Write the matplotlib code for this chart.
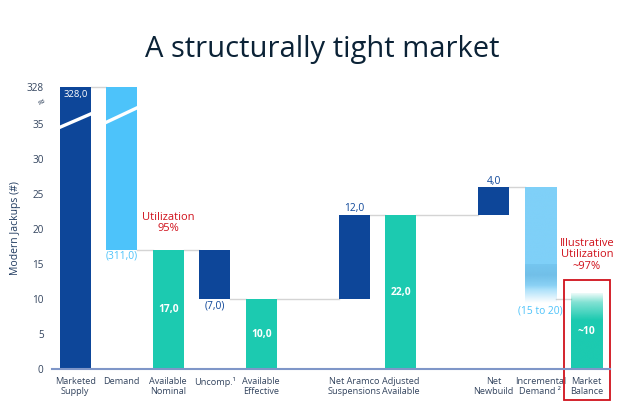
import numpy as np
import matplotlib
matplotlib.use("Agg")
import matplotlib.pyplot as plt
from matplotlib.patches import Rectangle
from matplotlib.colors import to_rgb

plt.rcParams["font.family"] = ["Open Sans", "DejaVu Sans"]

# ---- data ----
categories = ["Marketed\nSupply", "Demand", "Available\nNominal", "Uncomp.\u00b9",
              "Available\nEffective", "Net Aramco\nSuspensions", "Adjusted\nAvailable",
              "Net\nNewbuild", "Incremental\nDemand \u00b2", "Market\nBalance"]
bar_bottom = [0, 17, 0, 10, 0, 10, 0, 22, 9.5, 0]
bar_top = [328, 328, 17, 17, 10, 22, 22, 26, 26, 10.8]
value_labels = ["328,0", "(311,0)", "17,0", "(7,0)", "10,0", "12,0", "22,0", "4,0", "(15 to 20)", "~10"]
kinds = ["pos", "neg", "total", "negdark", "total", "pos", "total", "pos", "fadeneg", "fadetotal"]
connector_levels = [328, 17, 17, 10, 10, 22, 22, 26, 10]
y_ticks = [0, 5, 10, 15, 20, 25, 30, 35]
break_top_label = "328"

# ---- layout ----
slots = [0, 1, 2, 3, 4, 6, 7, 9, 10, 11]
YTOP = 40.3
W = 0.67
DARK = "#0d4699"
LIGHT = "#4dc3fa"
TEAL = "#1ccab0"
INC = "#7fd0f8"
RED = "#d0111b"
GRAY = "#d4d4d4"
TXT = "#34455f"

fig = plt.figure(figsize=(6.4, 4.17), dpi=100)
ax = fig.add_axes([52/640, 48/417, 558/640, 282/417])
ax.set_xlim(-0.5, 11.5)
ax.set_ylim(0, YTOP)

def disp(v):
    return min(v, YTOP)

def gradient_bar(x, y0, y1, color, stops_y, stops_a):
    n = 300
    ys = np.linspace(y0, y1, n)
    a = np.interp(ys, stops_y, stops_a)
    img = np.zeros((n, 1, 4))
    img[:, 0, :3] = to_rgb(color)
    img[:, 0, 3] = a
    ax.imshow(img, extent=[x - W/2, x + W/2, y0, y1], origin="lower",
              aspect="auto", interpolation="bilinear", zorder=2)

for i, (s, b, t, k) in enumerate(zip(slots, bar_bottom, bar_top, kinds)):
    if k == "pos":
        ax.bar(s, disp(t) - b, bottom=b, width=W, color=DARK, zorder=2)
    elif k == "neg":
        ax.bar(s, disp(t) - b, bottom=b, width=W, color=LIGHT, zorder=2)
    elif k == "negdark":
        ax.bar(s, t - b, bottom=b, width=W, color=DARK, zorder=2)
    elif k == "total":
        ax.bar(s, t - b, bottom=b, width=W, color=TEAL, zorder=2)
    elif k == "fadeneg":
        gradient_bar(s, b, t, INC, [b, 12.0, 14.8, t], [0.0, 0.85, 1.0, 1.0])
        gradient_bar(s, 11.5, 15.0, "#5fb0dc", [11.5, 13.5, 15.0], [0.0, 0.55, 0.3])
    elif k == "fadetotal":
        gradient_bar(s, b, t, TEAL, [b, 7.0, 9.5, t], [1.0, 1.0, 0.55, 0.08])

# connectors
for i, lvl in enumerate(connector_levels):
    x0 = slots[i] + W/2
    x1 = slots[i + 1] - W/2
    ax.plot([x0, x1], [disp(lvl), disp(lvl)], color=GRAY, lw=1, zorder=1, clip_on=False)

# break marks
for s, (ya, yb) in zip(slots[:2], [(34.4, 36.5), (35.1, 37.4)]):
    ax.plot([s - W/2 - 0.08, s + W/2 + 0.05], [ya - 0.1, yb + 0.1], color="white",
            lw=2.4, zorder=3, clip_on=False, solid_capstyle="butt")

# value labels
fs = 7.4
ax.text(slots[0], 39.2, value_labels[0], color="white", ha="center", va="center", fontsize=6.8, zorder=4)
ax.text(slots[1], 16.2, value_labels[1], color=LIGHT, ha="center", va="center", fontsize=fs)
ax.text(slots[2], 8.5, value_labels[2], color="white", ha="center", va="center", fontsize=fs, fontweight="bold", zorder=4)
ax.text(slots[3], 9.0, value_labels[3], color=DARK, ha="center", va="center", fontsize=fs)
ax.text(slots[4], 5.0, value_labels[4], color="white", ha="center", va="center", fontsize=fs, fontweight="bold", zorder=4)
ax.text(slots[5], 22.9, value_labels[5], color=DARK, ha="center", va="center", fontsize=fs)
ax.text(slots[6], 11.0, value_labels[6], color="white", ha="center", va="center", fontsize=fs, fontweight="bold", zorder=4)
ax.text(slots[7], 26.8, value_labels[7], color=DARK, ha="center", va="center", fontsize=fs)
ax.text(slots[8], 8.3, value_labels[8], color=LIGHT, ha="center", va="center", fontsize=fs, zorder=4)
ax.text(slots[9], 5.4, value_labels[9], color="white", ha="center", va="center", fontsize=fs, fontweight="bold", zorder=4)

# annotations
ax.text(slots[2], 20.9, "Utilization\n95%", color=RED, ha="center", va="center", fontsize=8, linespacing=1.05)
ax.text(slots[9], 16.3, "Illustrative\nUtilization\n~97%", color=RED, ha="center", va="center", fontsize=8, linespacing=1.05)
ax.add_patch(Rectangle((slots[9] - 0.49, -4.4), 0.98, 17.1, fill=False, ec=RED, lw=1.3,
                       clip_on=False, zorder=5))

# axes styling
for sp in ["top", "right", "left"]:
    ax.spines[sp].set_visible(False)
ax.spines["bottom"].set_color("#7f96c8")
ax.spines["bottom"].set_linewidth(1.5)
ax.spines["bottom"].set_zorder(6)
ax.set_yticks(y_ticks + [YTOP])
ax.set_yticklabels([str(v) for v in y_ticks] + [break_top_label])
ax.set_xticks(slots)
ax.set_xticklabels(categories, linespacing=1.15)
ax.tick_params(axis="both", length=0, colors=TXT)
ax.tick_params(axis="y", pad=6, labelsize=7.2)
ax.tick_params(axis="x", pad=6, labelsize=6.6)
ax.text(-0.72, 38.3, "\u2248", color=TXT, fontsize=7, ha="center", va="center", rotation=30,
        family="DejaVu Sans")
ax.set_ylabel("Modern Jackups (#)", color="#1f3a5f", fontsize=7.5, labelpad=4)

fig.text(322/640, 1 - 50/417, "A structurally tight market", ha="center", va="center",
         fontsize=21, color="#0b2236", family="Open Sans")

fig.savefig("out.png", dpi=100)
